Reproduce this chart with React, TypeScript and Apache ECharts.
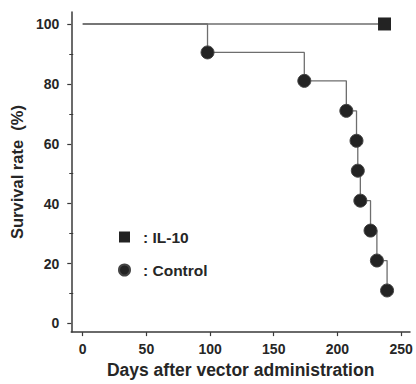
import React, { useEffect, useRef } from "react";
import * as echarts from "echarts";

const xTicks = [0, 50, 100, 150, 200, 250];
const yTicks = [0, 20, 40, 60, 80, 100];
const yMinorTicks = [10, 30, 50, 70, 90];

const il10Days = [0, 237];
const il10Survival = [100, 100];

const controlDays = [0, 98, 174, 207, 215, 216, 218, 226, 231, 239];
const controlSurvival = [100, 90.5, 81, 71, 61, 51, 41, 31, 21, 11];

const FONT = "'Liberation Sans', Arial, Helvetica, sans-serif";
const AXIS_COLOR = "#3a3a3a";
const LINE_COLOR = "#6e6e6e";
const MARK_COLOR = "#232323";
const TEXT_COLOR = "#262626";

export default function App() {
  const ref = useRef<HTMLDivElement>(null);

  useEffect(() => {
    if (!ref.current) return;
    const chart = echarts.init(ref.current, null, { renderer: "svg" });

    const il10Data = il10Days.map((d, i) =>
      i === 0
        ? { value: [d, il10Survival[i]], symbol: "none" }
        : { value: [d, il10Survival[i]] }
    );
    const controlData = controlDays.map((d, i) =>
      i === 0
        ? { value: [d, controlSurvival[i]], symbol: "none" }
        : { value: [d, controlSurvival[i]] }
    );

    chart.setOption({
      animation: false,
      backgroundColor: "#ffffff",
      grid: { left: 65, right: 6, top: 12, bottom: 47, containLabel: false },
      legend: {
        orient: "vertical",
        left: 113,
        top: 224,
        itemGap: 17,
        itemWidth: 11,
        itemHeight: 11,
        formatter: (name: string) => ": " + name,
        textStyle: {
          fontFamily: FONT,
          fontWeight: "bold",
          fontSize: 15.5,
          color: TEXT_COLOR,
          padding: [0, 0, 0, 8],
        },
        data: [
          { name: "IL-10", icon: "rect", itemStyle: { color: MARK_COLOR } },
          { name: "Control", icon: "circle", itemStyle: { color: MARK_COLOR } },
        ],
      },
      xAxis: {
        type: "value",
        min: -9,
        max: 257,
        name: "Days after vector administration",
        nameLocation: "middle",
        nameGap: 26,
        nameTextStyle: {
          fontFamily: FONT,
          fontWeight: "bold",
          fontSize: 17.5,
          color: TEXT_COLOR,
        },
        axisLine: {
          show: true,
          onZero: false,
          lineStyle: { color: AXIS_COLOR, width: 1.5 },
        },
        axisTick: {
          show: true,
          inside: false,
          length: 4,
          customValues: xTicks,
          lineStyle: { color: AXIS_COLOR, width: 1.2 },
        },
        axisLabel: {
          customValues: xTicks,
          margin: 10,
          fontFamily: FONT,
          fontWeight: "bold",
          fontSize: 14,
          color: TEXT_COLOR,
        },
        splitLine: { show: false },
      },
      yAxis: [
        {
          type: "value",
          min: -2.9,
          max: 104,
          position: "left",
          name: "Survival rate  (%)",
          nameLocation: "middle",
          nameGap: 36,
          nameTextStyle: {
            fontFamily: FONT,
            fontWeight: "bold",
            fontSize: 16.5,
            color: TEXT_COLOR,
            padding: [0, 0, 8, 0],
          },
          axisLine: {
            show: true,
            onZero: false,
            lineStyle: { color: AXIS_COLOR, width: 1.5 },
          },
          axisTick: {
            show: true,
            inside: false,
            length: 4,
            customValues: yTicks,
            lineStyle: { color: AXIS_COLOR, width: 1.2 },
          },
          axisLabel: {
            customValues: yTicks,
            margin: 12,
            fontFamily: FONT,
            fontWeight: "bold",
            fontSize: 14,
            color: TEXT_COLOR,
          },
          splitLine: { show: false },
        },
        {
          type: "value",
          min: -2.9,
          max: 104,
          position: "left",
          offset: -2,
          axisLine: { show: false, onZero: false },
          axisTick: {
            show: true,
            inside: false,
            length: 4,
            customValues: yMinorTicks,
            lineStyle: { color: AXIS_COLOR, width: 1 },
          },
          axisLabel: { show: false },
          splitLine: { show: false },
        },
      ],
      series: [
        {
          name: "Control",
          type: "line",
          step: "end",
          data: controlData,
          symbol: "circle",
          symbolSize: 13,
          itemStyle: { color: MARK_COLOR, borderColor: "#444", borderWidth: 1 },
          lineStyle: { color: LINE_COLOR, width: 1.3 },
          z: 2,
        },
        {
          name: "IL-10",
          type: "line",
          data: il10Data,
          symbol: "rect",
          symbolSize: 13,
          itemStyle: { color: MARK_COLOR },
          lineStyle: { color: LINE_COLOR, width: 1.3 },
          z: 3,
        },
      ],
    });

    return () => chart.dispose();
  }, []);

  return (
    <div
      ref={ref}
      style={{ position: "fixed", left: 0, top: 0, width: 416, height: 384 }}
    />
  );
}
